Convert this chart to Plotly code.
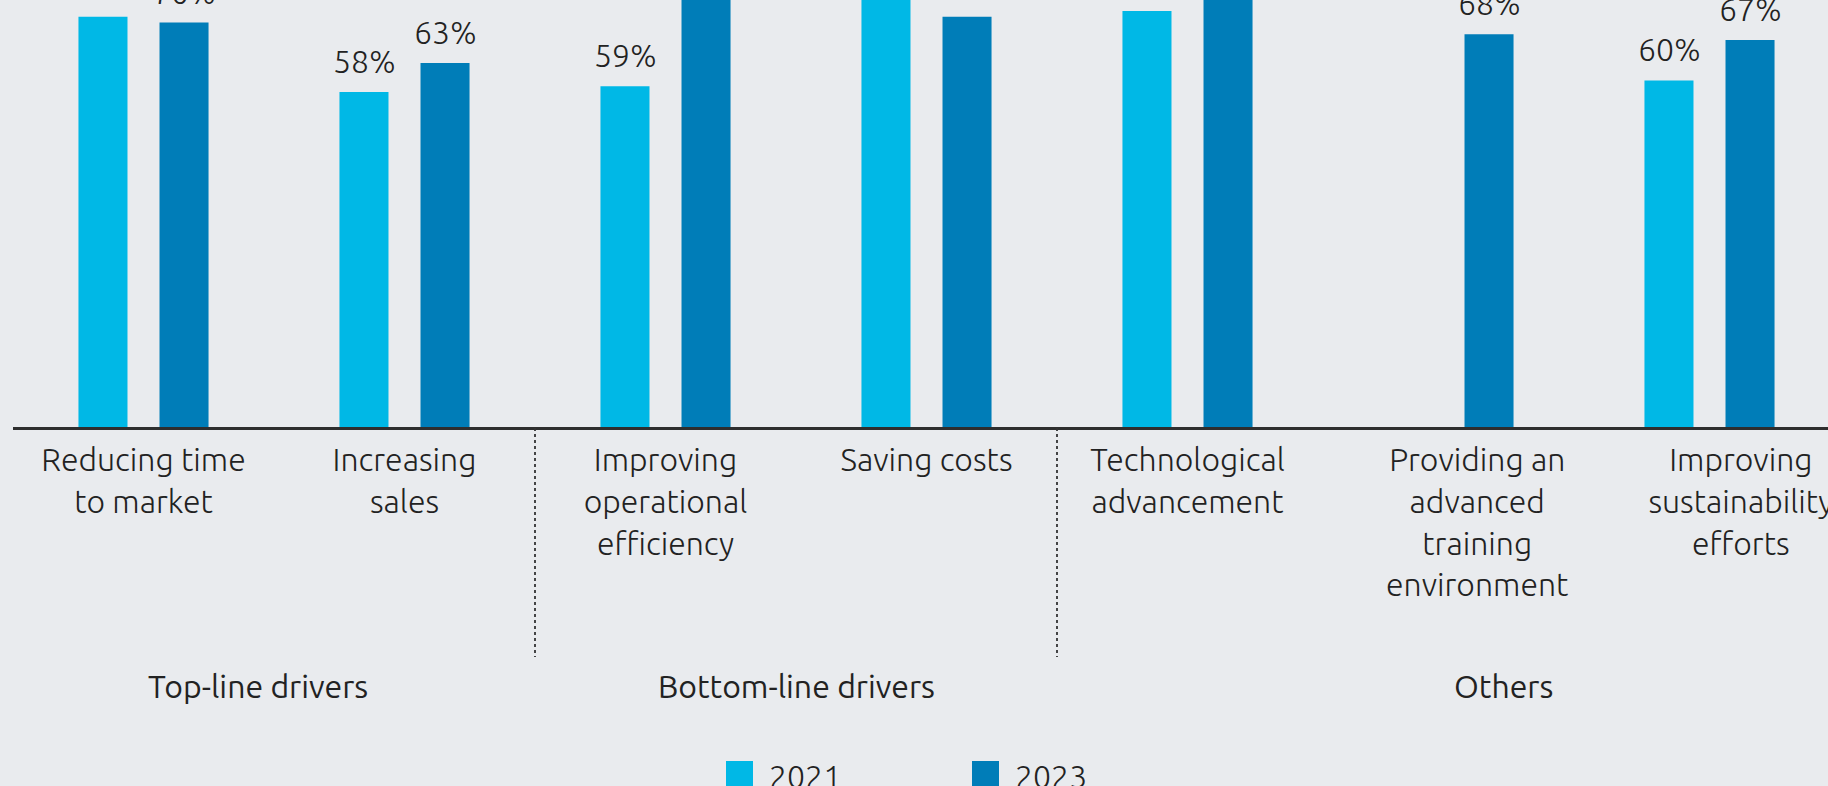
import plotly.graph_objects as go

categories = [
    "Reducing time<br>to market",
    "Increasing<br>sales",
    "Improving<br>operational<br>efficiency",
    "Saving costs",
    "Technological<br>advancement",
    "Providing an<br>advanced<br>training<br>environment",
    "Improving<br>sustainability<br>efforts",
]
values_2021 = [71, 58, 59, 76, 72, None, 60]
values_2023 = [70, 63, 78, 71, 77, 68, 67]
series_names = ["2021", "2023"]
series_colors = ["#00B8E6", "#007DB8"]
group_labels = ["Top-line drivers", "Bottom-line drivers", "Others"]
group_label_pos = [0.44, 2.5, 5.21]
divider_pos = [1.5, 3.5]

FONT = "Ubuntu, 'Open Sans', Lato, sans-serif"
TXT = "#222222"
BG = "#E9EBEE"

W, H = 1828, 786
ML = 13
PLOT_H = 427
UNIT = 261.0
xr = [-0.5, -0.5 + (W - ML) / UNIT]
yr = [0, PLOT_H / 5.777]
tick_label_shift = [0, 0, 0, 0, 0, 0.11, 0.12]

idx = list(range(len(categories)))
fig = go.Figure()
for name, vals, col in zip(series_names, [values_2021, values_2023], series_colors):
    fig.add_trace(go.Bar(x=idx, y=vals, name=name, marker=dict(color=col, line=dict(width=0)),
                         showlegend=False, hoverinfo="skip"))

annotations = []
# value labels
for s, (vals, shift) in enumerate(zip([values_2021, values_2023], [-40.5, 40.5])):
    for i, v in enumerate(vals):
        if v is None:
            continue
        annotations.append(dict(x=i, y=v, xref="x", yref="y", text=f"{v}%", showarrow=False,
                                xshift=shift, yshift=11, yanchor="bottom", xanchor="center",
                                font=dict(family=FONT, size=32, color=TXT, weight=300)))

def py(px):
    return -(px - PLOT_H) / PLOT_H

def pxp(px):
    return (px - ML) / (W - ML)

for lab, pos in zip(group_labels, group_label_pos):
    annotations.append(dict(x=pos, y=py(686), xref="x", yref="paper", text=lab, showarrow=False,
                            xanchor="center", yanchor="middle",
                            font=dict(family=FONT, size=32, color=TXT, weight=400)))

shapes = []
for d in divider_pos:
    shapes.append(dict(type="line", xref="x", yref="paper", x0=d, x1=d, y0=py(428), y1=py(657),
                       line=dict(color="#333333", width=1.8, dash="3px,3px")))

# legend (manual)
leg_sq = [726, 972]
for name, col, lx in zip(series_names, series_colors, leg_sq):
    shapes.append(dict(type="rect", xref="paper", yref="paper", x0=pxp(lx), x1=pxp(lx + 27),
                       y0=py(761), y1=py(788), fillcolor=col, line=dict(width=0)))
    annotations.append(dict(x=pxp(lx + 41), y=py(776), xref="paper", yref="paper", text=name,
                            showarrow=False, xanchor="left", yanchor="middle",
                            font=dict(family=FONT, size=32, color=TXT, weight=300)))

fig.update_layout(
    width=W, height=H,
    margin=dict(l=ML, r=0, t=0, b=H - PLOT_H, pad=0, autoexpand=False),
    paper_bgcolor=BG, plot_bgcolor=BG,
    barmode="group", bargap=0.379, bargroupgap=0.395,
    annotations=annotations, shapes=shapes,
    showlegend=False,
    font=dict(family=FONT, color=TXT),
)
fig.update_xaxes(range=xr, tickmode="array",
                 tickvals=[i + s for i, s in zip(idx, tick_label_shift)], ticktext=categories,
                 showgrid=False, zeroline=False, showline=True, linecolor="#2E2E2E", linewidth=3,
                 ticks="", tickfont=dict(family=FONT, size=32, color=TXT, weight=300),
                 ticklabelstandoff=3, tickangle=0, ticklabeloverflow="allow", automargin=False)
fig.update_yaxes(range=yr, showgrid=False, zeroline=False, showticklabels=False, showline=False,
                 automargin=False)

fig.write_html("out.html", config={"displayModeBar": False},
               post_script="document.body.style.margin='0px';document.body.style.overflow='hidden';"
                           "document.documentElement.style.overflow='hidden';")
